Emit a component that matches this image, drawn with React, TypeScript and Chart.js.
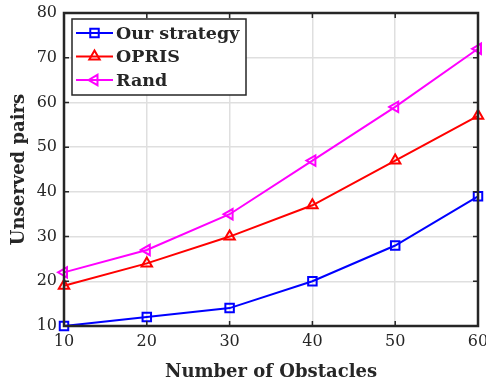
import { useEffect, useRef } from "react";
import { Chart, registerables } from "chart.js";

Chart.register(...registerables);

const obstacles = [10, 20, 30, 40, 50, 60];
const ourStrategy = [10, 12, 14, 20, 28, 39];
const opris = [19, 24, 30, 37, 47, 57];
const rand = [22, 27, 35, 47, 59, 72];
const xTickValues = [10, 20, 30, 40, 50, 60];
const yTickValues = [10, 20, 30, 40, 50, 60, 70, 80];

const FONT = "'DejaVu Serif', serif";
const INK = "#262626";

// Hollow marker used for the legend samples.
function drawMarker(ctx: CanvasRenderingContext2D, style: string, rot: number, r: number, x: number, y: number) {
  ctx.save();
  ctx.translate(x, y);
  ctx.rotate((rot * Math.PI) / 180);
  ctx.beginPath();
  if (style === "rect") {
    const s = r * Math.SQRT1_2;
    ctx.rect(-s, -s, 2 * s, 2 * s);
  } else {
    const w = r * Math.sin((Math.PI * 2) / 3);
    ctx.moveTo(0, -r);
    ctx.lineTo(w, r * 0.5);
    ctx.lineTo(-w, r * 0.5);
    ctx.closePath();
  }
  ctx.stroke();
  ctx.restore();
}

// Frame with inward tick marks, plus a boxed legend in the upper-left corner.
const framePlugin = {
  id: "frame",
  afterDraw(chart: any) {
    const { ctx, chartArea, scales } = chart;
    const { left, top, right, bottom } = chartArea;
    const xs = scales.x;
    const ys = scales.y;
    ctx.save();
    ctx.strokeStyle = INK;
    ctx.lineWidth = 1.5;
    const tl = 5;
    ctx.beginPath();
    xTickValues.forEach((v) => {
      const px = xs.getPixelForValue(v);
      ctx.moveTo(px, bottom);
      ctx.lineTo(px, bottom - tl);
      ctx.moveTo(px, top);
      ctx.lineTo(px, top + tl);
    });
    yTickValues.forEach((v) => {
      const py = ys.getPixelForValue(v);
      ctx.moveTo(left, py);
      ctx.lineTo(left + tl, py);
      ctx.moveTo(right, py);
      ctx.lineTo(right - tl, py);
    });
    ctx.stroke();
    ctx.lineWidth = 2.5;
    ctx.strokeRect(left, top, right - left, bottom - top);

    // legend
    const bx = left + 8;
    const by = top + 6;
    const bw = 174;
    const bh = 76;
    ctx.fillStyle = "#ffffff";
    ctx.fillRect(bx, by, bw, bh);
    ctx.lineWidth = 1.5;
    ctx.strokeStyle = INK;
    ctx.strokeRect(bx, by, bw, bh);
    chart.data.datasets.forEach((ds: any, i: number) => {
      const cy = by + 14 + i * 23.5;
      const x0 = bx + 4;
      const x1 = bx + 41;
      ctx.strokeStyle = ds.borderColor;
      ctx.lineWidth = 2;
      ctx.beginPath();
      ctx.moveTo(x0, cy);
      ctx.lineTo(x1, cy);
      ctx.stroke();
      drawMarker(ctx, ds.pointStyle, ds.pointRotation || 0, ds.pointRadius, (x0 + x1) / 2, cy);
      ctx.fillStyle = INK;
      ctx.font = `bold 17.5px ${FONT}`;
      ctx.textAlign = "left";
      ctx.textBaseline = "middle";
      ctx.fillText(ds.label, x1 + 3, cy + 1);
    });
    ctx.restore();
  },
};

export default function App() {
  const canvasRef = useRef<HTMLCanvasElement | null>(null);

  useEffect(() => {
    const canvas = canvasRef.current;
    if (!canvas) return;
    const mk = (label: string, data: number[], color: string, style: string, rot = 0) => ({
      label,
      data: data.map((v, i) => ({ x: obstacles[i], y: v })),
      borderColor: color,
      backgroundColor: "rgba(0,0,0,0)",
      pointBorderColor: color,
      pointBackgroundColor: "rgba(0,0,0,0)",
      pointStyle: style,
      pointRotation: rot,
      pointRadius: 6,
      pointBorderWidth: 2,
      borderWidth: 2,
      tension: 0,
      clip: false as any,
    });
    const chart = new Chart(canvas, {
      type: "line",
      data: {
        datasets: [
          mk("Our strategy", ourStrategy, "#0000ff", "rect"),
          mk("OPRIS", opris, "#ff0000", "triangle"),
          mk("Rand", rand, "#ff00ff", "triangle", -90),
        ],
      },
      options: {
        animation: false,
        responsive: false,
        layout: { padding: { top: 13, right: 8, left: 0, bottom: 0 } },
        plugins: { legend: { display: false }, tooltip: { enabled: false } },
        scales: {
          x: {
            type: "linear",
            min: 10,
            max: 60,
            afterBuildTicks: (s: any) => {
              s.ticks = xTickValues.map((v) => ({ value: v }));
            },
            afterFit: (s: any) => {
              s.height = 57;
              s.paddingLeft = 0;
              s.paddingRight = 0;
            },
            grid: { color: "#dfdfdf", lineWidth: 1.5, drawTicks: false },
            border: { display: false },
            ticks: {
              color: INK,
              font: { family: FONT, size: 16 },
              padding: 6,
              maxRotation: 0,
            },
            title: {
              display: true,
              text: "Number of Obstacles",
              color: INK,
              font: { family: FONT, size: 18, weight: "bold" },
              padding: { top: 2, bottom: 0 },
            },
          },
          y: {
            type: "linear",
            min: 10,
            max: 80,
            afterBuildTicks: (s: any) => {
              s.ticks = yTickValues.map((v) => ({ value: v }));
            },
            afterFit: (s: any) => {
              s.width = 64;
              s.paddingTop = 0;
              s.paddingBottom = 0;
            },
            grid: { color: "#dfdfdf", lineWidth: 1.5, drawTicks: false },
            border: { display: false },
            ticks: {
              color: INK,
              font: { family: FONT, size: 16 },
              padding: 7,
            },
            title: {
              display: true,
              text: "Unserved pairs",
              color: INK,
              font: { family: FONT, size: 18, weight: "bold" },
              padding: { top: 9, bottom: 0 },
            },
          },
        },
      },
      plugins: [framePlugin],
    });
    return () => chart.destroy();
  }, []);

  return (
    <div style={{ position: "absolute", left: 0, top: 0, width: 486, height: 383, background: "#fff" }}>
      <canvas ref={canvasRef} width={486} height={383} />
    </div>
  );
}
